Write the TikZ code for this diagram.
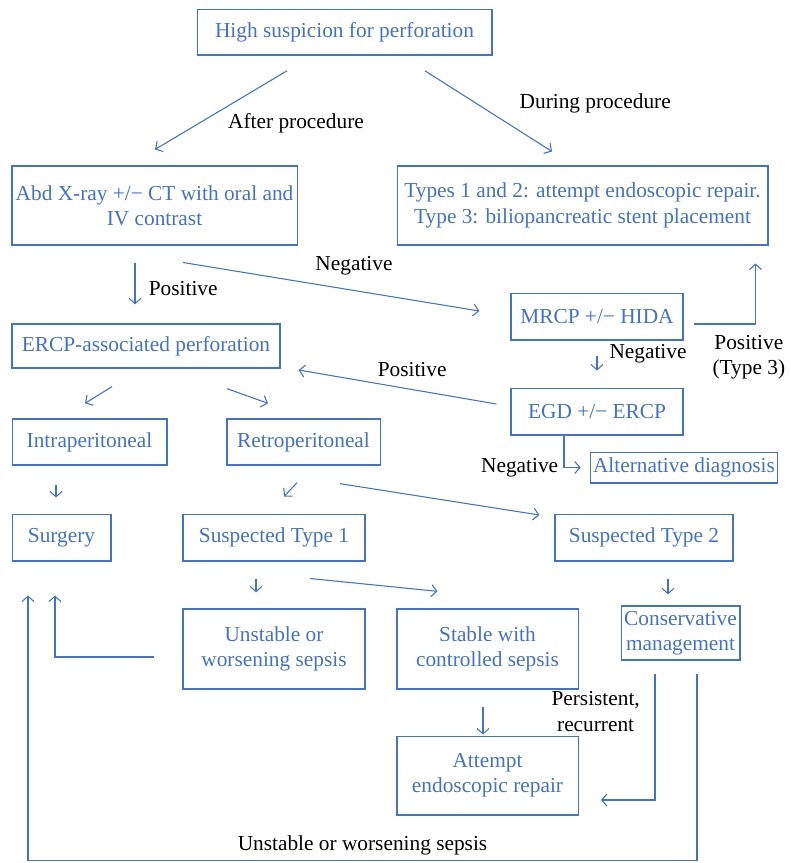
\documentclass[tikz,border=0pt]{standalone}
\usepackage{fontspec}
\setmainfont{Liberation Serif}
\usepackage{tikz}
\usetikzlibrary{arrows.meta, calc, positioning}
\definecolor{flowblue}{RGB}{68,114,196}

\begin{document}
\begin{tikzpicture}[x=0.75pt, y=-0.75pt,
        box/.style={rectangle, draw=flowblue, text=flowblue, line width=1pt, align=center, inner sep=2pt, font=\fontsize{16}{19}\selectfont},
        lbl/.style={text=black, align=center, inner sep=1pt, font=\fontsize{16}{19}\selectfont},
        arr/.style={draw=flowblue, line width=0.8pt, -{Straight Barb[length=4pt, width=9pt]}}]
        \useasboundingbox (0,0) rectangle (791,863);
        % boxes
        \node[box, minimum width=221pt, minimum height=34pt] (high) at (344.5,32.5) {High suspicion for perforation};
        \node[box, minimum width=214pt, minimum height=59pt] (abd) at (154.5,205.5) {Abd X-ray +/\textminus{} CT with oral and\\IV contrast};
        \node[box, minimum width=278pt, minimum height=59pt] (types) at (582.5,205.5) {Types 1 and 2: attempt endoscopic repair.\\Type 3: biliopancreatic stent placement};
        \node[box, minimum width=129pt, minimum height=35pt] (mrcp) at (597,316.5) {MRCP +/\textminus{} HIDA};
        \node[box, minimum width=201pt, minimum height=33pt] (ercp) at (146,346) {ERCP-associated perforation};
        \node[box, minimum width=129pt, minimum height=35pt] (egd) at (597,411.5) {EGD +/\textminus{} ERCP};
        \node[box, minimum width=116pt, minimum height=34.5pt] (intra) at (89.5,442) {Intraperitoneal};
        \node[box, minimum width=115pt, minimum height=34.5pt] (retro) at (303.5,442) {Retroperitoneal};
        \node[box, minimum width=139.5pt, minimum height=23pt] (alt) at (684,467.5) {Alternative diagnosis};
        \node[box, minimum width=74pt, minimum height=35pt] (surgery) at (61.5,537.5) {Surgery};
        \node[box, minimum width=136.5pt, minimum height=35pt] (st1) at (274,537.5) {Suspected Type 1};
        \node[box, minimum width=133.5pt, minimum height=35pt] (st2) at (644,537.5) {Suspected Type 2};
        \node[box, minimum width=136.5pt, minimum height=60pt] (unstable) at (274,649) {Unstable or\\worsening sepsis};
        \node[box, minimum width=136pt, minimum height=60pt] (stable) at (487.5,649) {Stable with\\controlled sepsis};
        \node[box, minimum width=89pt, minimum height=40.5pt, inner sep=1pt] (cons) at (680.5,633) {Conservative\\management};
        \node[box, minimum width=136pt, minimum height=59pt] (attempt) at (487.5,775.5) {Attempt\\endoscopic repair};

        % connectors
        \draw[arr] ($(high.south)+(-57.5,15)$) -- node[lbl, pos=0.5, anchor=west, xshift=4pt, yshift=-10pt] {After procedure} ($(abd.north)+(0.5,-16)$);
        \draw[arr] ($(high.south)+(80.5,15)$) -- node[lbl, pos=0.5, anchor=west, xshift=22pt, yshift=6pt] {During procedure} ($(types.north)+(-30.5,-14)$);
        \draw[arr] ($(abd.south)+(-19.5,17)$) -- node[lbl, pos=0.5, anchor=west, xshift=9pt, yshift=-4pt] {Positive} ($(ercp.north)+(-11,-19)$);
        \draw[arr] ($(abd.south)+(28.5,17)$) -- node[lbl, pos=0.55, anchor=south, xshift=6pt, yshift=9pt] {Negative} ($(mrcp.west)+(-31,-5.5)$);
        \draw[arr] ($(mrcp.east)+(10,7.5)$) -| node[lbl, pos=0.5, anchor=north, xshift=-5pt, yshift=-7pt] {Positive\\(Type 3)} ($(types.south east)+(-13,18)$);
        \draw[arr] ($(mrcp.south)+(0,15)$) -- node[lbl, pos=0.5, anchor=west, xshift=8pt, yshift=7pt] {Negative} ($(egd.north)+(0,-17)$);
        \draw[arr] ($(egd.west)+(-14,-7.5)$) -- node[lbl, pos=0.5, anchor=south, xshift=11pt, yshift=6pt] {Positive} ($(ercp.east)+(18,24)$);
        \draw[arr] ($(egd.south)+(-33,0)$) |- node[lbl, pos=0.5, anchor=east, xshift=-3pt] {Negative} ($(alt.west)+(-9,0)$);
        \draw[arr] ($(ercp.south)+(-34,18)$) -- ($(intra.north)+(-4.5,-15)$);
        \draw[arr] ($(ercp.south)+(81,20)$) -- ($(retro.north)+(-35.5,-15)$);
        \draw[arr] ($(intra.south)+(-33.5,19)$) -- ($(surgery.north)+(-5.5,-16)$);
        \draw[arr] ($(retro.south)+(-6.5,17)$) -- ($(st1.north)+(10,-17)$);
        \draw[arr] ($(retro.south)+(36.5,18)$) -- ($(st2.west)+(-15,-22.5)$);
        \draw[arr] ($(st1.south)+(-18,17)$) -- ($(unstable.north)+(-18,-16)$);
        \draw[arr] ($(st1.south)+(36,17)$) -- ($(stable.north)+(-50,-17)$);
        \draw[arr] ($(st2.south)+(24,17)$) -- ($(cons.north)+(-12.5,-11)$);
        \draw[arr] ($(unstable.west)+(-28,8)$) -| ($(surgery.south)+(-6.5,34)$);
        \draw[arr] ($(stable.south)+(-4.5,17)$) -- ($(attempt.north)+(-4.5,-1)$);
        \draw[arr] ($(cons.south)+(-25.5,13)$) |- node[lbl, pos=0.15, anchor=east, xshift=-10pt] {Persistent,\\recurrent} ($(attempt.east)+(22,24.5)$);
        \draw[arr] ($(cons.south)+(16.5,13)$) -- ++(0,187) -| node[lbl, pos=0.25, anchor=south, yshift=3pt] {Unstable or worsening sepsis} ($(surgery.south)+(-33.5,34)$);
    \end{tikzpicture}
\end{document}
